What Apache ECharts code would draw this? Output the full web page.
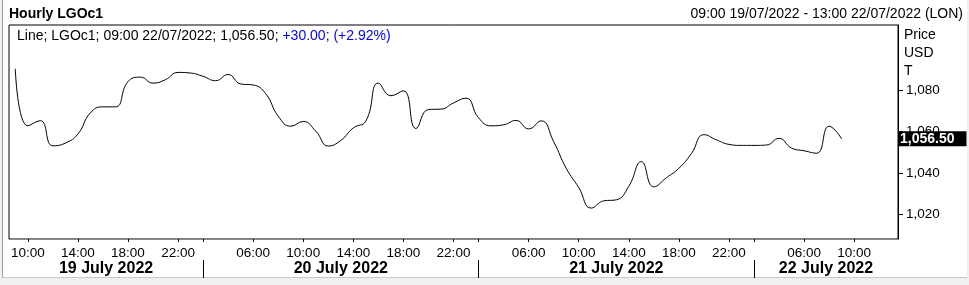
<!DOCTYPE html>
<html>
<head>
<meta charset="utf-8">
<script src="https://cdn.jsdelivr.net/npm/echarts@6/dist/echarts.min.js"></script>
<style>
  html, body { margin: 0; padding: 0; background: #f0f0f0; }
  #frame { position: absolute; left: 2px; top: 0; width: 964px; height: 277px; background: #fff; border-left: 1px solid #a0a0a0; border-bottom: 1px solid #c8c8c8; }
  #chart { position: absolute; left: 0; top: 0; width: 969px; height: 285px; }
</style>
</head>
<body>
<div id="frame"></div>
<div id="chart"></div>
<script>
// ---- data ----
const dayDates = ['2022-07-19', '2022-07-20', '2022-07-21', '2022-07-22'];
const dayNames = ['19 July 2022', '20 July 2022', '21 July 2022', '22 July 2022'];
const hours19 = ['09:00','10:00','11:00','12:00','13:00','14:00','15:00','16:00','17:00','18:00','19:00','20:00','21:00','22:00','23:00'];
const hours20 = ['02:00','03:00','04:00','05:00','06:00','07:00','08:00','09:00','10:00','11:00','12:00','13:00','14:00','15:00','16:00','17:00','18:00','19:00','20:00','21:00','22:00','23:00'];
const hours21 = ['02:00','03:00','04:00','05:00','06:00','07:00','08:00','09:00','10:00','11:00','12:00','13:00','14:00','15:00','16:00','17:00','18:00','19:00','20:00','21:00','22:00','23:00'];
const hours22 = ['02:00','03:00','04:00','05:00','06:00','07:00','08:00','09:00','10:00','11:00','12:00','13:00'];
const prices = [
  1090.5, 1062.8, 1065.3, 1053.1, 1054.4, 1058.8, 1069.1, 1072.0, 1072.0, 1084.2,
  1086.4, 1083.5, 1085.2, 1088.7, 1088.4, 1086.8, 1084.7, 1087.7, 1083.1, 1082.6,
  1078.4, 1067.5, 1062.6, 1064.9, 1060.2, 1053.0, 1055.7, 1061.8, 1065.1, 1083.5,
  1077.4, 1079.8, 1061.5, 1070.7, 1070.9, 1073.9, 1076.2, 1066.7, 1062.8, 1063.3,
  1065.4, 1061.3, 1065.2, 1055.1, 1042.2, 1032.9, 1022.9, 1026.4, 1026.9, 1033.5,
  1045.4, 1033.2, 1037.6, 1042.2, 1049.3, 1058.5, 1056.0, 1053.8, 1053.3, 1053.3,
  1053.5, 1056.7, 1052.0, 1050.7, 1049.5, 1062.6, 1056.5
];
const yTicks = [1020, 1040, 1060, 1080];
const yMin = 1007.9, yMax = 1111.7;
const titleText = 'Hourly LGOc1';
const rangeText = '09:00 19/07/2022 - 13:00 22/07/2022 (LON)';
const legendMain = 'Line; LGOc1; 09:00 22/07/2022; 1,056.50; ';
const legendChange = '+30.00; (+2.92%)';
const unitText = 'Price\nUSD\nT';

// ---- build ----
const hourLists = [hours19, hours20, hours21, hours22];
const categories = [];
hourLists.forEach((hs, d) => hs.forEach(h => categories.push(dayDates[d] + ' ' + h)));
const n = categories.length;
const hourOf = c => c.slice(-5);
const boundaries = [];
categories.forEach((c, i) => { if (i > 0 && hourOf(c) === '02:00') boundaries.push(i); });
const edges = [-0.5].concat(boundaries, [n - 0.5]);
const dayCenters = [];
for (let i = 0; i < edges.length - 1; i++) dayCenters.push((edges[i] + edges[i + 1]) / 2);

const fmt = (v, d) => v.toLocaleString('en-US', { minimumFractionDigits: d, maximumFractionDigits: d });
const FONT = '"Liberation Sans", Arial, sans-serif';

const chart = echarts.init(document.getElementById('chart'), null, { renderer: 'canvas' });
chart.setOption({
  animation: false,
  backgroundColor: 'transparent',
  title: [
    { text: titleText, left: 9, top: 7, padding: 0,
      textStyle: { fontFamily: FONT, fontSize: 14, fontWeight: 'bold', color: '#000' } },
    { text: rangeText, right: 6, top: 7, padding: 0,
      textStyle: { fontFamily: FONT, fontSize: 14, fontWeight: 'normal', color: '#000' } },
    { text: '{a|' + legendMain + '}{b|' + legendChange + '}', left: 17, top: 29, padding: 0,
      textStyle: { fontFamily: FONT, fontSize: 14, fontWeight: 'normal',
        rich: { a: { fontFamily: FONT, fontSize: 14, color: '#000' }, b: { fontFamily: FONT, fontSize: 14, color: '#0000ff' } } } },
    { text: unitText, left: 904, top: 26, padding: 0,
      textStyle: { fontFamily: FONT, fontSize: 14, fontWeight: 'normal', color: '#000', lineHeight: 18 } }
  ],
  grid: { left: 9, right: 71, top: 25, bottom: 46, show: true, borderColor: '#000', borderWidth: 1, backgroundColor: '#fff' },
  xAxis: [
    {
      type: 'category', data: categories, boundaryGap: true, position: 'bottom',
      axisLine: { show: true, onZero: false, lineStyle: { color: '#8c8c8c', width: 1 } },
      axisTick: { show: true, alignWithLabel: true, length: 3, lineStyle: { color: '#000' },
        interval: (i, v) => { const h = parseInt(hourOf(v), 10); return (h - 2) % 4 === 0; } },
      axisLabel: { show: true, margin: 7, fontFamily: FONT, fontSize: 13.5, color: '#000',
        interval: (i, v) => { const h = parseInt(hourOf(v), 10); return (h - 2) % 4 === 0 && h !== 2; },
        formatter: v => hourOf(v) },
      splitLine: { show: false }
    },
    {
      type: 'value', min: -0.5, max: n - 0.5, position: 'bottom', offset: 21,
      axisLine: { show: false, onZero: false },
      axisTick: { show: true, customValues: boundaries, length: 18, lineStyle: { color: '#000', width: 1 } },
      axisLabel: { show: true, customValues: dayCenters, margin: 1, fontFamily: FONT, fontSize: 16, fontWeight: 'bold', color: '#000',
        formatter: v => { const k = dayCenters.indexOf(v); return k >= 0 ? dayNames[k] : ''; } },
      splitLine: { show: false }
    }
  ],
  yAxis: {
    type: 'value', position: 'right', min: yMin, max: yMax,
    axisLine: { show: true, onZero: false, lineStyle: { color: '#000' } },
    axisTick: { show: true, customValues: yTicks, length: 5, lineStyle: { color: '#000' } },
    axisLabel: { show: true, customValues: yTicks, margin: 8, fontFamily: FONT, fontSize: 13.5, color: '#000',
      formatter: v => fmt(v, 0) },
    splitLine: { show: false }
  },
  series: [{
    type: 'line', xAxisIndex: 0, yAxisIndex: 0, data: prices,
    smooth: 0.5, showSymbol: false, symbol: 'none',
    lineStyle: { color: '#000', width: 1 },
    markLine: {
      silent: true, symbol: 'none',
      lineStyle: { color: 'rgba(0,0,0,0)', width: 1, type: 'solid' },
      data: [{ yAxis: prices[prices.length - 1] }],
      label: { show: true, position: 'end', distance: 0,
        formatter: () => fmt(prices[prices.length - 1], 2),
        backgroundColor: '#000', color: '#fff', fontFamily: FONT, fontSize: 14, fontWeight: 'bold',
        padding: [1, 12, 0, 2], lineHeight: 14 }
    }
  }]
});
</script>
</body>
</html>
